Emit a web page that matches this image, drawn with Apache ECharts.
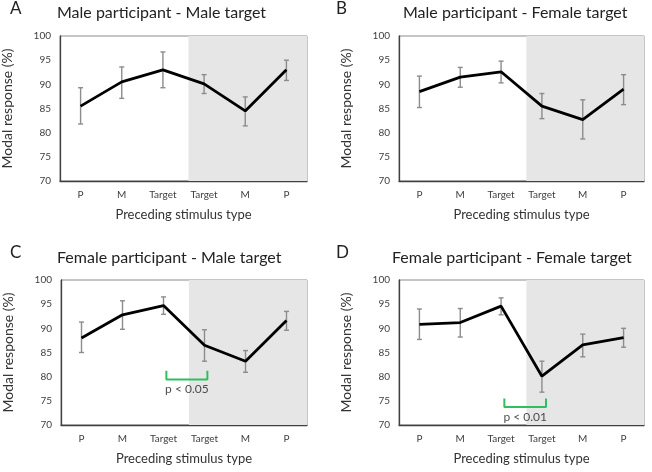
<!DOCTYPE html>
<html>
<head>
<meta charset="utf-8">
<title>Modal response</title>
<script src="https://cdn.jsdelivr.net/npm/echarts@6/dist/echarts.min.js"></script>
<style>
  html, body { margin: 0; padding: 0; background: #fff; }
  #chart { width: 652px; height: 472px; }
</style>
</head>
<body>
<div id="chart"></div>
<script>
// categories on x axis
var categories = ['P', 'M', 'Target', 'Target', 'M', 'P'];
var panelLetters = ['A', 'B', 'C', 'D'];
var panelTitles = [
  'Male participant - Male target',
  'Male participant - Female target',
  'Female participant - Male target',
  'Female participant - Female target'
];

// means per panel
var meanA = [85.5, 90.5, 93.0, 90.1, 84.5, 93.0];
var meanB = [88.5, 91.5, 92.6, 85.5, 82.7, 89.0];
var meanC = [88.0, 92.8, 94.7, 86.5, 83.2, 91.6];
var meanD = [90.8, 91.2, 94.6, 80.1, 86.6, 88.1];

// error bar lows / highs
var lowA = [81.8, 87.1, 89.3, 88.1, 81.4, 90.8];
var highA = [89.3, 93.6, 96.7, 92.0, 87.4, 95.0];
var lowB = [85.2, 89.4, 90.3, 82.9, 78.7, 85.8];
var highB = [91.7, 93.5, 94.8, 88.1, 86.8, 92.0];
var lowC = [85.0, 89.8, 92.9, 83.2, 80.9, 89.6];
var highC = [91.3, 95.7, 96.5, 89.7, 85.4, 93.5];
var lowD = [87.7, 88.2, 92.8, 76.8, 84.1, 86.1];
var highD = [94.0, 94.1, 96.3, 83.2, 88.8, 90.0];

// shaded block starts just after the first "Target" (category index units)
var shadeFrom = 2.62;
var shadeTo = 5.5;

// significance brackets: panel index, from, to, tip value, bar value, label value, text
var bracketPanels = [2, 3];
var bracketFrom = [2.07, 2.08];
var bracketTo = [3.07, 3.10];
var bracketTip = [81.2, 75.5];
var bracketBar = [79.4, 73.7];
var bracketLabelY = [77.4, 71.6];
var bracketText = ['p < 0.05', 'p < 0.01'];

var means = [meanA, meanB, meanC, meanD];
var lows = [lowA, lowB, lowC, lowD];
var highs = [highA, highB, highC, highD];

var FONT = 'Lato, "Open Sans", sans-serif';

var grids = [
  { left: 60, top: 36, width: 247, height: 145 },
  { left: 399, top: 36, width: 245, height: 145 },
  { left: 61, top: 280, width: 246, height: 145 },
  { left: 399, top: 280, width: 245, height: 145 }
];

var chart = echarts.init(document.getElementById('chart'), null, { renderer: 'canvas' });

var option = {
  backgroundColor: '#fff',
  animation: false,
  title: [],
  grid: [],
  xAxis: [],
  yAxis: [],
  series: []
};

var letterPos = [[5, -5], [331, -5], [5, 239], [331, 239]];
var titlePos = [[52, 0], [398, 0], [52, 245], [387, 245]];

grids.forEach(function (g, i) {
  option.grid.push({
    left: g.left, top: g.top, width: g.width, height: g.height,
    show: true, borderColor: '#8c8c8c', borderWidth: 1,
    backgroundColor: 'transparent',
    containLabel: false, outerBoundsMode: 'none'
  });

  option.title.push({
    text: panelLetters[i], left: letterPos[i][0], top: letterPos[i][1],
    textStyle: { fontFamily: FONT, fontSize: 17, fontWeight: 'normal', color: '#222' }
  });
  option.title.push({
    text: panelTitles[i], left: titlePos[i][0], top: titlePos[i][1],
    textStyle: { fontFamily: FONT, fontSize: 16, fontWeight: 'normal', color: '#222' }
  });

  // visible category axis
  option.xAxis.push({
    type: 'category', gridIndex: i, data: categories, boundaryGap: true,
    name: 'Preceding stimulus type', nameLocation: 'middle', nameGap: 27,
    nameTextStyle: { fontFamily: FONT, fontSize: 13, color: '#333' },
    axisLine: { onZero: false, lineStyle: { color: '#404040', width: 1.3 } },
    axisTick: { show: false },
    axisLabel: { fontFamily: FONT, fontSize: 10, color: '#404040', margin: 9, interval: 0 },
    splitLine: { show: false }
  });
  option.yAxis.push({
    type: 'value', gridIndex: i, min: 70, max: 100, interval: 5,
    name: 'Modal response (%)', nameLocation: 'middle', nameGap: 46,
    nameTextStyle: { fontFamily: FONT, fontSize: 14, color: '#333' },
    axisLine: { show: true, onZero: false, lineStyle: { color: '#404040', width: 1.3 } },
    axisTick: { show: false },
    axisLabel: { fontFamily: FONT, fontSize: 10, color: '#404040', margin: 9 },
    splitLine: { show: false }
  });
});

// hidden value axes for shading and brackets (index 4..7)
grids.forEach(function (g, i) {
  option.xAxis.push({
    type: 'value', gridIndex: i, min: -0.5, max: 5.5, show: false,
    axisLine: { onZero: false }
  });
});

grids.forEach(function (g, i) {
  // shaded region
  option.series.push({
    type: 'line', xAxisIndex: 4 + i, yAxisIndex: i, data: [], z: 1,
    silent: true,
    markArea: {
      silent: true,
      itemStyle: { color: '#e6e6e6' },
      data: [[{ xAxis: shadeFrom }, { xAxis: shadeTo }]]
    }
  });

  // error bars
  option.series.push({
    type: 'custom', xAxisIndex: i, yAxisIndex: i, z: 3,
    data: categories.map(function (c, k) { return [k, lows[i][k], highs[i][k]]; }),
    renderItem: function (params, api) {
      var lo = api.coord([api.value(0), api.value(1)]);
      var hi = api.coord([api.value(0), api.value(2)]);
      var cap = 2.5;
      var st = { stroke: '#8c8c8c', lineWidth: 1.4 };
      return {
        type: 'group',
        children: [
          { type: 'line', shape: { x1: lo[0], y1: lo[1], x2: hi[0], y2: hi[1] }, style: st },
          { type: 'line', shape: { x1: lo[0] - cap, y1: lo[1], x2: lo[0] + cap, y2: lo[1] }, style: st },
          { type: 'line', shape: { x1: hi[0] - cap, y1: hi[1], x2: hi[0] + cap, y2: hi[1] }, style: st }
        ]
      };
    }
  });

  // mean line
  option.series.push({
    type: 'line', xAxisIndex: i, yAxisIndex: i, z: 4,
    data: means[i], symbol: 'none',
    lineStyle: { color: '#000', width: 2.8 }
  });
});

bracketPanels.forEach(function (p, j) {
  option.series.push({
    type: 'line', xAxisIndex: 4 + p, yAxisIndex: p, z: 5, symbol: 'none',
    lineStyle: { color: '#2fbf5f', width: 2 },
    data: [
      [bracketFrom[j], bracketTip[j]], [bracketFrom[j], bracketBar[j]],
      [bracketTo[j], bracketBar[j]], [bracketTo[j], bracketTip[j]]
    ]
  });
  option.series.push({
    type: 'scatter', xAxisIndex: 4 + p, yAxisIndex: p, z: 6, symbolSize: 0,
    data: [[(bracketFrom[j] + bracketTo[j]) / 2, bracketLabelY[j]]],
    label: {
      show: true, position: 'inside', formatter: bracketText[j],
      fontFamily: FONT, fontSize: 12, color: '#222'
    }
  });
});

chart.setOption(option);
</script>
</body>
</html>
